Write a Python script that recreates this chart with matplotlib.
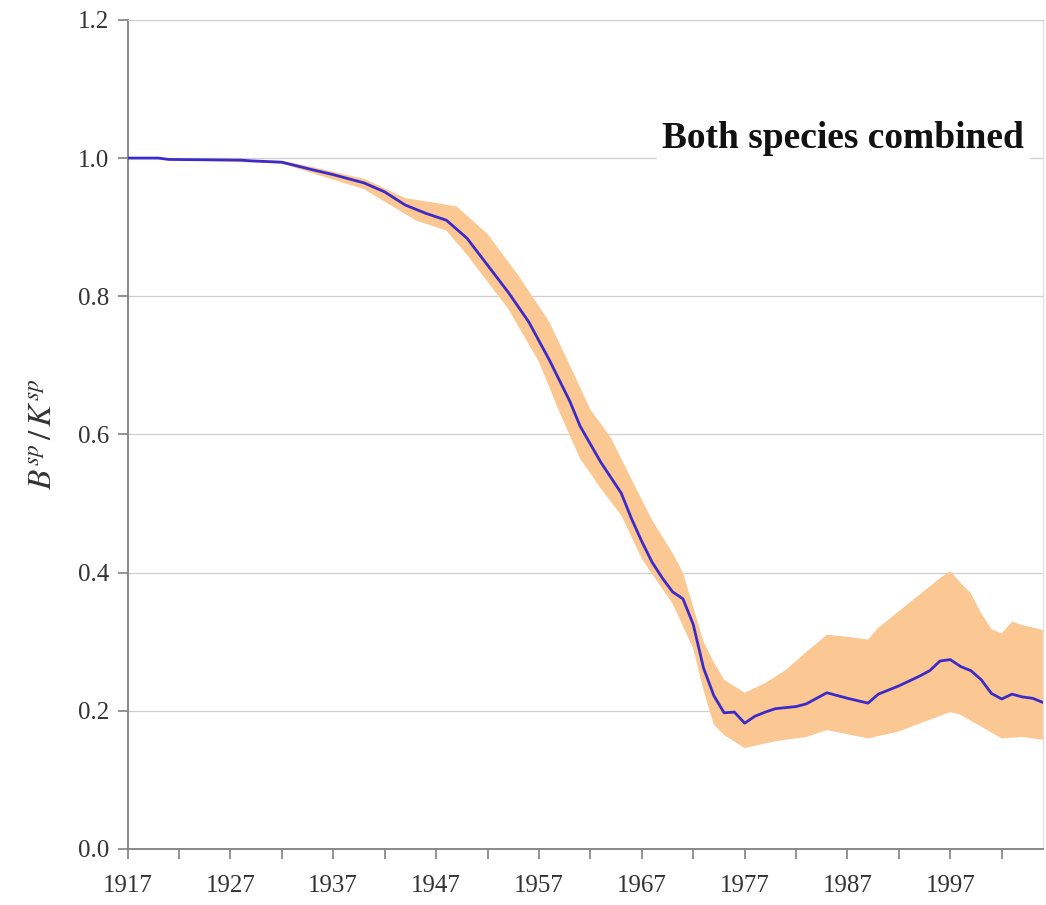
import matplotlib
matplotlib.use("Agg")
import matplotlib.pyplot as plt
import numpy as np

# median biomass ratio, both species combined
years = [1917, 1920, 1921, 1928, 1929, 1932, 1935, 1937, 1940, 1942, 1944, 1946,
         1948, 1950, 1952, 1954, 1956, 1958, 1960, 1961, 1963, 1965, 1966, 1967,
         1968, 1969, 1970, 1971, 1972, 1973, 1974, 1975, 1976, 1977,
         1978, 1979, 1980, 1982, 1983, 1985, 1987, 1989, 1990, 1992, 1994, 1995,
         1996, 1997, 1998, 1999, 2000, 2001, 2002, 2003, 2004, 2005, 2006]
ratio = [1.000, 1.000, 0.998, 0.997, 0.996, 0.994, 0.983, 0.976, 0.964, 0.951, 0.932, 0.920,
         0.910, 0.884, 0.845, 0.806, 0.763, 0.708, 0.648, 0.612, 0.560, 0.515, 0.478, 0.445,
         0.415, 0.392, 0.372, 0.362, 0.325, 0.262, 0.222, 0.197, 0.198, 0.182,
         0.192, 0.198, 0.203, 0.206, 0.210, 0.226, 0.218, 0.211, 0.224, 0.236, 0.250, 0.258,
         0.272, 0.274, 0.264, 0.258, 0.245, 0.225, 0.217, 0.224, 0.220, 0.218, 0.212]

# upper and lower limits of the uncertainty band
upper_years = [1917, 1932, 1935, 1940, 1944, 1947, 1949, 1952, 1955, 1958, 1960, 1962,
               1964, 1966, 1968, 1970, 1971, 1972, 1973, 1974, 1975, 1977, 1979, 1981,
               1983, 1985, 1987, 1989, 1990, 1993, 1995, 1996, 1997, 1998, 1999, 2000,
               2001, 2002, 2003, 2004, 2006]
upper = [1.000, 0.996, 0.987, 0.970, 0.942, 0.935, 0.930, 0.890, 0.830, 0.763, 0.700, 0.636,
         0.595, 0.535, 0.476, 0.428, 0.400, 0.350, 0.300, 0.270, 0.245, 0.226, 0.240, 0.259,
         0.285, 0.310, 0.307, 0.303, 0.320, 0.356, 0.380, 0.392, 0.402, 0.385, 0.370, 0.341,
         0.318, 0.312, 0.329, 0.324, 0.317]

lower_years = [1917, 1932, 1935, 1940, 1945, 1948, 1950, 1954, 1957, 1959, 1961, 1963,
               1965, 1967, 1968, 1970, 1972, 1973, 1974, 1975, 1977, 1980, 1983,
               1985, 1987, 1989, 1992, 1995, 1997, 1998, 2000, 2002, 2004, 2006]
lower = [1.000, 0.992, 0.978, 0.955, 0.910, 0.895, 0.860, 0.782, 0.705, 0.632, 0.565, 0.522,
         0.483, 0.420, 0.398, 0.355, 0.290, 0.230, 0.180, 0.165, 0.146, 0.156, 0.162,
         0.172, 0.166, 0.160, 0.170, 0.187, 0.198, 0.194, 0.177, 0.160, 0.162, 0.158]

tick_years = list(range(1917, 2003, 5))
tick_labels = [str(y) if (y - 1917) % 10 == 0 else '' for y in tick_years]

plt.rcParams['font.family'] = ['Liberation Serif', 'DejaVu Serif']
plt.rcParams['mathtext.fontset'] = 'stix'

fig = plt.figure(figsize=(10.46, 9.05), dpi=100)
ax = fig.add_axes([0.122, 0.062, 0.875, 0.916])

band_x = np.concatenate([upper_years, lower_years[::-1]])
band_y = np.concatenate([upper, lower[::-1]])
ax.fill(band_x, band_y, color='#fbc792', lw=0, zorder=2)
ax.plot(years, ratio, color='#3d2bc9', lw=2, zorder=3)

ax.set_xlim(1917, 2006)
ax.set_ylim(0, 1.2)
ax.set_yticks(np.arange(0, 1.21, 0.2))
ax.set_yticklabels([f'{v:.1f}' for v in np.arange(0, 1.21, 0.2)])
ax.set_xticks(tick_years)
ax.set_xticklabels(tick_labels)
ax.tick_params(axis='both', labelsize=18, colors='#808080', labelcolor='#333333',
               length=7, width=1.2, direction='out')
ax.tick_params(axis='x', pad=12)
ax.tick_params(axis='y', pad=6)

ax.yaxis.grid(True, color='#cfcfcf', lw=0.9, zorder=1)
ax.set_axisbelow(True)
for side in ['left', 'bottom']:
    ax.spines[side].set_color('#808080')
    ax.spines[side].set_linewidth(1.3)
ax.spines['top'].set_color('#cfcfcf')
ax.spines['right'].set_color('#dddddd')

ax.set_ylabel(r'$B^{sp}\,/\,K^{sp}$', fontsize=24, color='#333333', labelpad=14)

ax.text(1986.6, 1.029, 'Both species combined', fontsize=27, fontweight='bold',
        ha='center', va='center', color='#111111', zorder=5,
        bbox=dict(facecolor='white', edgecolor='none', pad=4))

plt.savefig('out.png', dpi=100)
plt.close(fig)
